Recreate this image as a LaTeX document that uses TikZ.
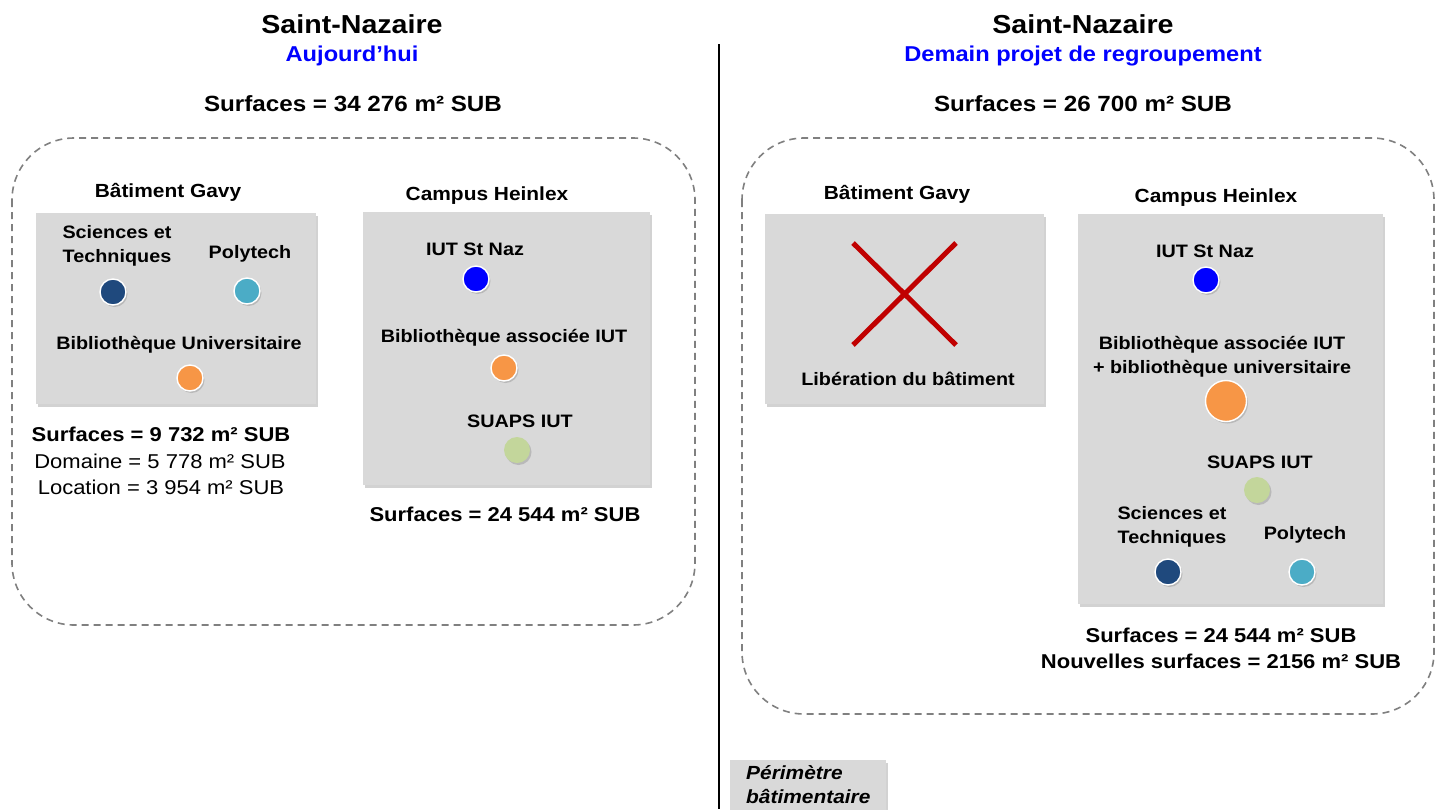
\documentclass[tikz,border=0pt]{standalone}
\usepackage{fontspec}
\setmainfont[FakeStretch=1.1]{Liberation Sans}
\usetikzlibrary{shadows}
\definecolor{boxgray}{HTML}{D9D9D9}
\definecolor{dkblue}{HTML}{1F497D}
\definecolor{cyanb}{HTML}{4BACC6}
\definecolor{orangeb}{HTML}{F79646}
\definecolor{blueb}{HTML}{0000FF}
\definecolor{greenb}{HTML}{C3D69B}
\definecolor{redx}{HTML}{C00000}
\definecolor{titleblue}{HTML}{0000FF}
\definecolor{dashgray}{HTML}{808080}
\tikzset{
  title/.style={font=\fontsize{26}{30}\selectfont\bfseries, inner sep=0pt},
  subtitle/.style={font=\fontsize{21.5}{26}\selectfont\bfseries, text=titleblue, inner sep=0pt},
  surf/.style={font=\fontsize{22}{26}\selectfont\bfseries, inner sep=0pt},
  heading/.style={font=\fontsize{19}{23}\selectfont\bfseries, inner sep=0pt},
  lbl/.style={font=\fontsize{18}{24}\selectfont\bfseries, inner sep=0pt, align=center},
  surfb/.style={font=\fontsize{20}{26}\selectfont\bfseries, inner sep=0pt, align=center},
  surfr/.style={font=\fontsize{20}{26}\selectfont, inner sep=0pt},
  bldg/.style={fill=boxgray, draw=none, drop shadow={shadow xshift=2pt, shadow yshift=-2.5pt, opacity=0.35}},
  zone/.style={draw=dashgray, dash pattern=on 7pt off 5pt, line width=1.6pt, rounded corners=62pt},
  dot/.style={circle, draw=white, line width=1.4pt, inner sep=0pt, minimum size=26pt, drop shadow={shadow xshift=1.5pt, shadow yshift=-2pt, opacity=0.35}},
  xline/.style={draw=redx, line width=5pt},
}
\begin{document}
\begin{tikzpicture}[x=1pt,y=-1pt]
\useasboundingbox[fill=white] (0,0) rectangle (1443,809);

% divider
\coordinate (divtop) at (719,44);
\coordinate (divbot) at (719,809);
\draw[line width=1.6pt] (divtop) -- (divbot);

% ---------- left ----------
\node[title] (tl) at (352,24) {Saint-Nazaire};
\node[subtitle] (stl) at (352,56) {Aujourd’hui};
\node[surf] (sl) at (353,104) {Surfaces = 34 276 m² SUB};
\draw[zone] (12,138) rectangle (695,625);

\node[heading] (hg) at (168,192) {Bâtiment Gavy};
\path[bldg] (36,213) rectangle (316,404);
\node[lbl] (st1) at (117,246) {Sciences et\\Techniques};
\node[lbl] (pt1) at (250,254) {Polytech};
\node[dot, fill=dkblue] (d1) at (113,292) {};
\node[dot, fill=cyanb] (d2) at (247,291) {};
\node[lbl] (bu1) at (179,345) {Bibliothèque Universitaire};
\node[dot, fill=orangeb] (d3) at (190,378) {};
\node[surfb] (sg) at (161,434) {Surfaces = 9 732 m² SUB};
\node[surfr] (dom) at (160,461) {Domaine = 5 778 m² SUB};
\node[surfr] (loc) at (161,487) {Location = 3 954 m² SUB};

\node[heading] (hh) at (487,196) {Campus Heinlex};
\path[bldg] (363,212) rectangle (650,485);
\node[lbl] (iut1) at (475,249) {IUT St Naz};
\node[dot, fill=blueb] (d4) at (476,279) {};
\node[lbl] (bai1) at (504,338) {Bibliothèque associée IUT};
\node[dot, fill=orangeb] (d5) at (504,368) {};
\node[lbl] (sua1) at (520,421) {SUAPS IUT};
\node[dot, fill=greenb, draw=none] (d6) at (517,450) {};
\node[surfb] (sh) at (505,514) {Surfaces = 24 544 m² SUB};

% ---------- right ----------
\node[title] (tr) at (1083,24) {Saint-Nazaire};
\node[subtitle] (str) at (1083,56) {Demain projet de regroupement};
\node[surf] (sr) at (1083,104) {Surfaces = 26 700 m² SUB};
\draw[zone] (742,138) rectangle (1434,714);

\node[heading] (hg2) at (897,194) {Bâtiment Gavy};
\path[bldg] (765,214) rectangle (1044,404);
\coordinate (xa) at (853,243);
\coordinate (xb) at (956,345);
\coordinate (xc) at (956,243);
\coordinate (xd) at (853,345);
\draw[xline] (xa) -- (xb);
\draw[xline] (xc) -- (xd);
\node[lbl] (lib) at (908,379) {Libération du bâtiment};

\node[heading] (hh2) at (1216,198) {Campus Heinlex};
\path[bldg] (1078,214) rectangle (1383,604);
\node[lbl] (iut2) at (1205,251) {IUT St Naz};
\node[dot, fill=blueb] (d7) at (1206,280) {};
\node[lbl] (bai2) at (1222,357) {Bibliothèque associée IUT\\+ bibliothèque universitaire};
\node[dot, fill=orangeb, minimum size=41pt] (d8) at (1226,401) {};
\node[lbl] (sua2) at (1260,462) {SUAPS IUT};
\node[dot, fill=greenb, draw=none] (d9) at (1257,490) {};
\node[lbl] (st2) at (1172,527) {Sciences et\\Techniques};
\node[lbl] (pt2) at (1305,535) {Polytech};
\node[dot, fill=dkblue] (d10) at (1168,572) {};
\node[dot, fill=cyanb] (d11) at (1302,572) {};
\node[surfb] (sh2) at (1221,648) {Surfaces = 24 544 m² SUB\\Nouvelles surfaces = 2156 m² SUB};

% legend
\path[bldg] (730,760) rectangle (886,820);
\node[lbl, anchor=west, align=left, font=\fontsize{19}{24}\selectfont\bfseries\itshape] (leg) at (746,785) {Périmètre\\bâtimentaire};
\end{tikzpicture}
\end{document}
